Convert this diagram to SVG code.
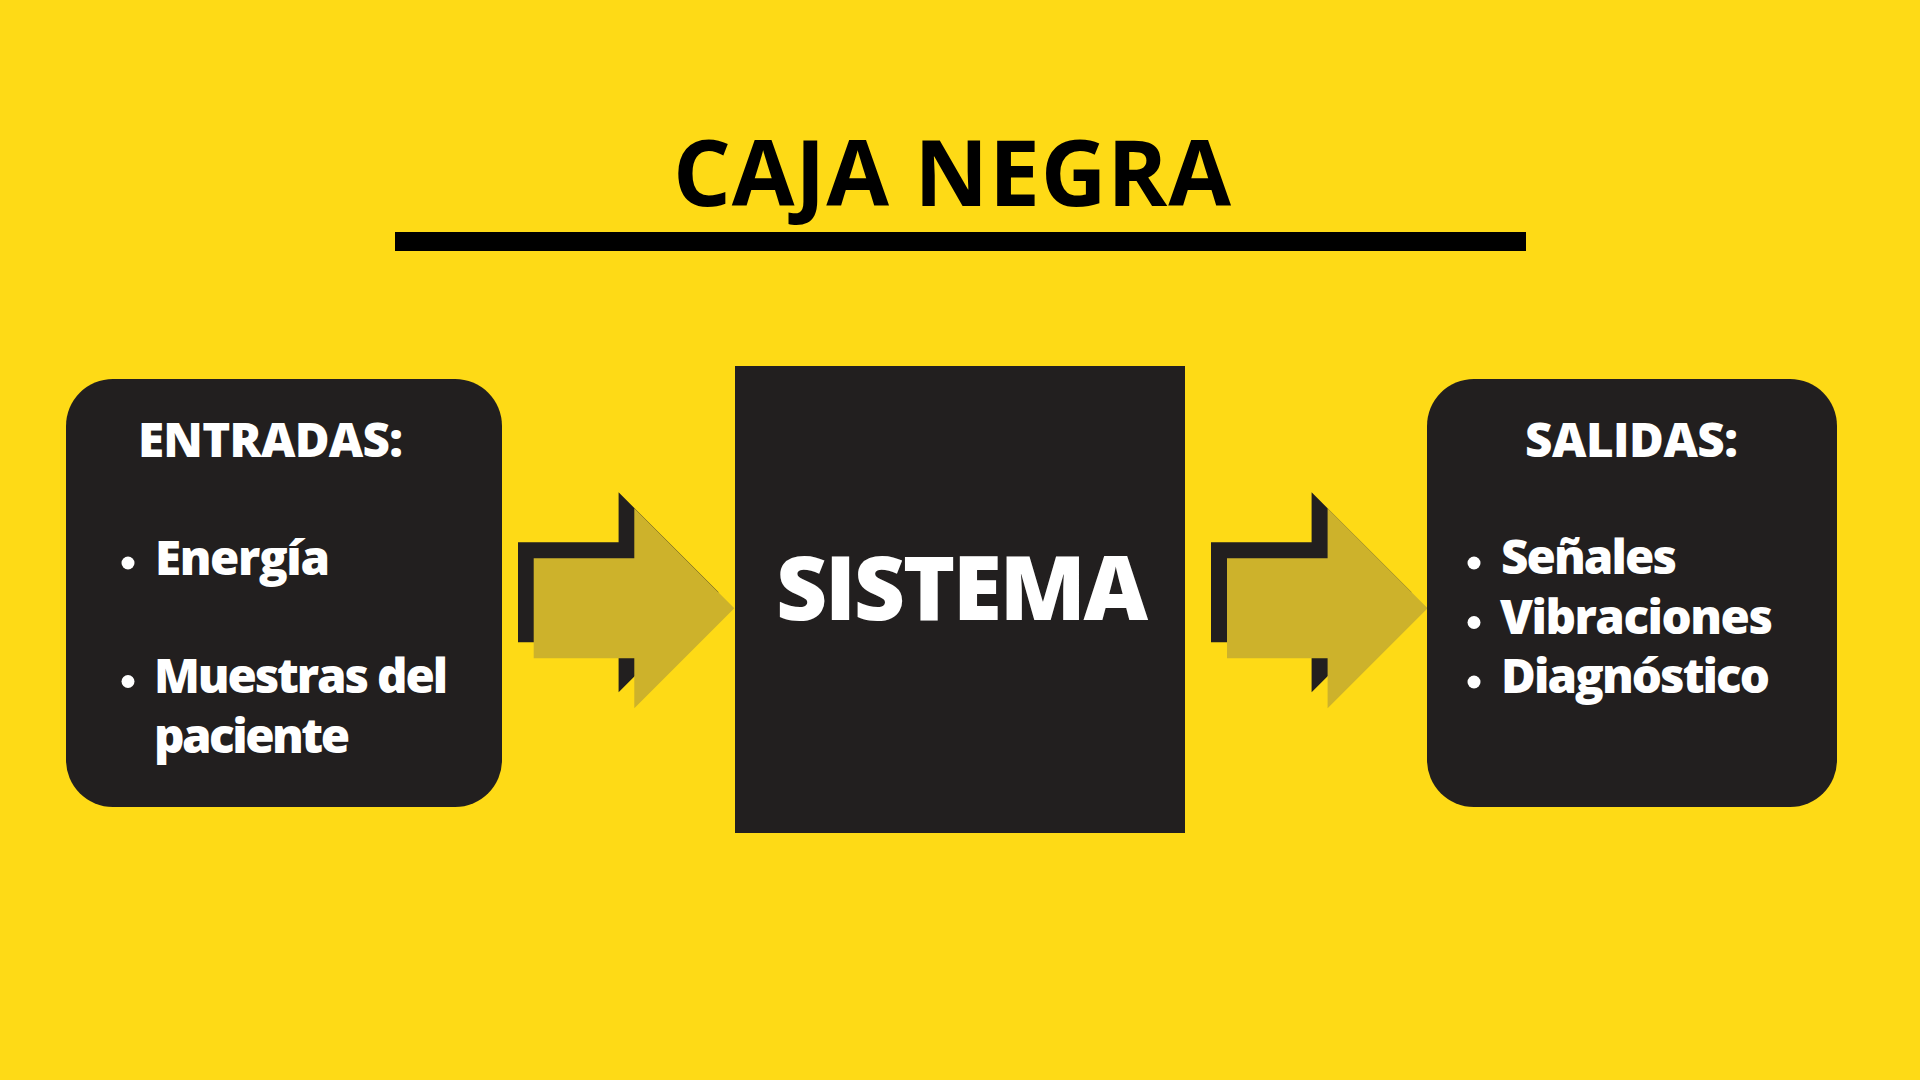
<svg xmlns="http://www.w3.org/2000/svg" width="1920" height="1080" viewBox="0 0 1920 1080">
  <defs>
    <style>
      .bg { fill: #FEDA16; }
      .box { fill: #221F1F; }
      .shadow { fill: #221F1F; }
      .arrow { fill: #CDB22B; }
      .t { font-family: "Open Sans", "DejaVu Sans", sans-serif; font-weight: 800; fill: #FFFFFF; }
      .head { font-size: 47.5px; }
      .item { font-size: 47.5px; }
      .big { font-size: 89px; }
      .title { font-family: "Open Sans", "DejaVu Sans", sans-serif; font-weight: 700; font-size: 91px; fill: #000000; }
      .dot { fill: #FFFFFF; }
    </style>
    <polygon id="arrowShape" points="0,0 100.6,0 100.6,-50 200.6,50 100.6,150 100.6,100 0,100"/>
  </defs>

  <rect class="bg" x="0" y="0" width="1920" height="1080"/>

  <g id="title">
    <text class="title" x="673" y="206" textLength="558">CAJA NEGRA</text>
    <rect x="395" y="232" width="1131" height="19" fill="#000000"/>
  </g>

  <g id="connectors">
    <g id="arrow-in">
      <use href="#arrowShape" class="shadow" x="518" y="542.3"/>
      <use href="#arrowShape" class="arrow" x="533.7" y="558.3"/>
    </g>
    <g id="arrow-out">
      <use href="#arrowShape" class="shadow" x="1211" y="542.3"/>
      <use href="#arrowShape" class="arrow" x="1227" y="558.3"/>
    </g>
  </g>

  <g id="entradas">
    <rect class="box" x="66" y="379" width="436" height="428" rx="47" ry="47"/>
    <text class="t head" x="138" y="457" textLength="265">ENTRADAS:</text>
    <circle class="dot" cx="128" cy="563" r="6.5"/>
    <text class="t item" x="155" y="575" textLength="175">Energía</text>
    <circle class="dot" cx="128" cy="681.5" r="6.5"/>
    <text class="t item"><tspan x="154" y="693.3" textLength="294">Muestras del</tspan><tspan x="154" y="752.5" textLength="196">paciente</tspan></text>
  </g>

  <g id="sistema">
    <rect class="box" x="735" y="366" width="450" height="467"/>
    <text class="t big" x="776" y="620" textLength="372">SISTEMA</text>
  </g>

  <g id="salidas">
    <rect class="box" x="1427" y="379" width="410" height="428" rx="47" ry="47"/>
    <text class="t head" x="1525" y="457" textLength="213">SALIDAS:</text>
    <circle class="dot" cx="1474" cy="563" r="6.5"/>
    <text class="t item" x="1501" y="574.3" textLength="176">Señales</text>
    <circle class="dot" cx="1474" cy="622.5" r="6.5"/>
    <text class="t item" x="1500" y="634" textLength="273">Vibraciones</text>
    <circle class="dot" cx="1474" cy="682" r="6.5"/>
    <text class="t item" x="1501" y="693.3" textLength="269">Diagnóstico</text>
  </g>
</svg>
